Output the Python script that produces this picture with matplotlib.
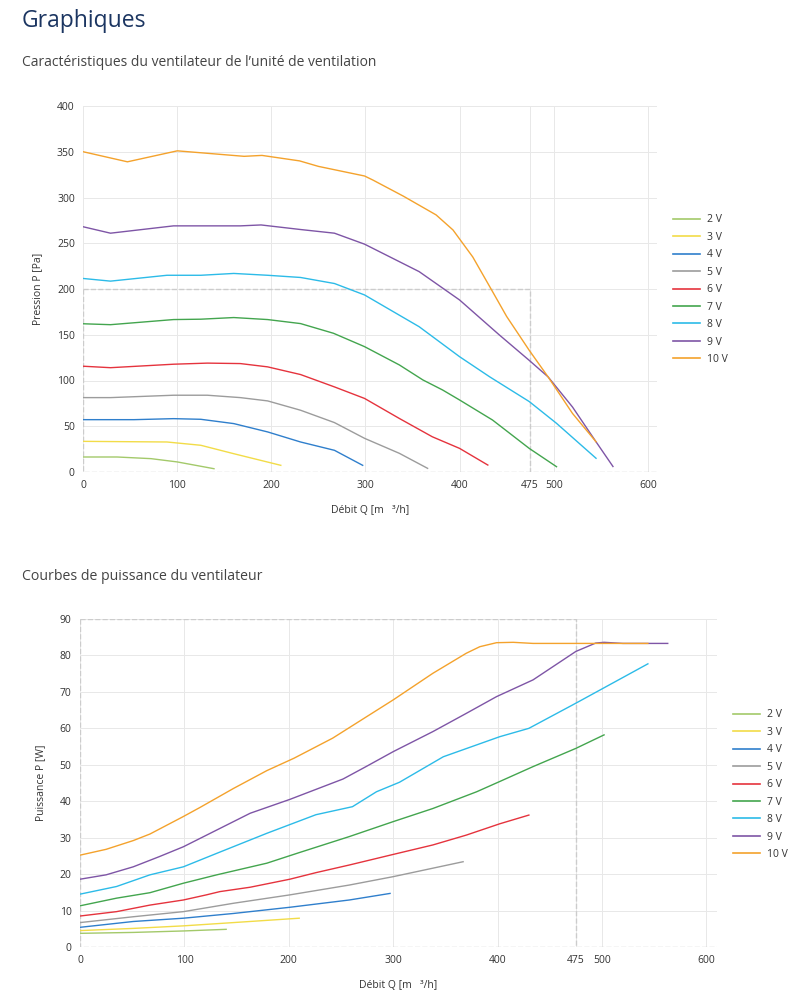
import matplotlib
matplotlib.use("Agg")
import matplotlib.pyplot as plt
from matplotlib.lines import Line2D

plt.rcParams['font.family'] = ['Open Sans', 'DejaVu Sans']

labels = ["2 V", "3 V", "4 V", "5 V", "6 V", "7 V", "8 V", "9 V", "10 V"]
colors = ["#a3c96a", "#f2dc48", "#2f7fcc", "#9c9c9c", "#e5333d",
          "#43a54e", "#2cbbe8", "#7e55a6", "#f4a22c"]

# --- pressure curves (Q m3/h, P Pa)
q_2v = [0, 36, 72, 100, 139]
p_2v = [16.4, 16.4, 14.6, 11, 3.6]
q_3v = [0, 89, 125, 160, 210]
p_3v = [33.5, 32.8, 29.2, 20, 7.3]
q_4v = [0, 54, 96, 125, 160, 196, 231, 267, 297]
p_4v = [57.2, 57.2, 58.3, 57.6, 52.9, 43.8, 32.8, 23.7, 7.3]
q_5v = [0, 29, 96, 132, 167, 196, 231, 267, 299, 336, 366]
p_5v = [81.3, 81.3, 83.9, 83.9, 81.3, 77.7, 67.5, 54, 36.8, 20.4, 4]
q_6v = [0, 29, 96, 132, 167, 196, 231, 267, 299, 336, 371, 400, 430]
p_6v = [115.6, 114, 117.8, 119, 118.5, 114.9, 106.5, 93, 80.4, 58.5, 38.5, 25.8, 7.6]
q_7v = [0, 29, 96, 125, 160, 196, 231, 266, 299, 336, 361, 382, 400, 435, 474, 503]
p_7v = [162, 161, 166.6, 167, 168.8, 166.6, 162.2, 151.6, 137, 117, 100.6, 89.6, 78.7, 56.8, 25.8, 5.8]
q_8v = [0, 29, 89, 125, 160, 196, 231, 267, 299, 357, 400, 432, 474, 503, 545]
p_8v = [211.5, 208.6, 215, 215, 217, 215, 212.6, 206, 193.5, 158.8, 126, 104, 77, 53.2, 15]
q_9v = [0, 29, 96, 167, 189, 231, 267, 299, 357, 400, 442, 474, 494, 520, 545, 563]
p_9v = [268, 261, 269, 269, 270, 265, 261, 249, 219, 188, 150, 122, 104, 71, 33, 6]
q_10v = [0, 47, 100, 171, 190, 230, 250, 299, 308, 340, 375, 393, 414, 434, 450, 474, 494, 520, 545]
p_10v = [350, 339, 351, 345, 346, 340, 334, 323.5, 319, 301.6, 281, 264.5, 235, 199, 170, 133, 104, 64, 33]

# --- power curves (Q m3/h, W)
wq_2v = [0, 51, 99, 140]
w_2v = [3.75, 4.0, 4.4, 4.85]
wq_3v = [0, 51, 99, 147, 210]
w_3v = [4.5, 5.1, 5.8, 6.7, 7.9]
wq_4v = [0, 51, 99, 147, 201, 258, 297]
w_4v = [5.4, 7.0, 7.9, 9.2, 10.9, 12.9, 14.7]
wq_5v = [0, 51, 99, 147, 201, 258, 300, 367]
w_5v = [6.7, 8.3, 9.7, 12.0, 14.3, 17.0, 19.3, 23.4]
wq_6v = [0, 35, 67, 99, 121, 134, 163, 201, 226, 258, 300, 338, 370, 402, 430]
w_6v = [8.5, 9.7, 11.5, 12.9, 14.3, 15.2, 16.4, 18.6, 20.4, 22.5, 25.4, 28.0, 30.7, 33.8, 36.2]
wq_7v = [0, 35, 67, 99, 131, 179, 210, 258, 300, 338, 380, 402, 434, 475, 502]
w_7v = [11.3, 13.4, 14.9, 17.5, 19.8, 23.0, 25.9, 30.3, 34.4, 38.0, 42.6, 45.4, 49.5, 54.5, 58.2]
wq_8v = [0, 35, 67, 99, 131, 179, 226, 261, 284, 306, 348, 402, 430, 475, 498, 544]
w_8v = [14.5, 16.6, 19.8, 22.0, 25.7, 31.2, 36.3, 38.5, 42.6, 45.2, 52.2, 57.7, 60.0, 66.9, 70.5, 77.7]
wq_9v = [0, 25, 51, 76, 99, 131, 163, 201, 252, 274, 300, 338, 370, 399, 434, 475, 494, 502, 520, 563]
w_9v = [18.6, 19.8, 22.0, 24.8, 27.5, 32.1, 36.7, 40.5, 46.1, 49.5, 53.6, 59.1, 64.1, 68.7, 73.3, 81.1, 83.4, 83.6, 83.3, 83.3]
wq_10v = [0, 25, 51, 67, 99, 115, 147, 179, 205, 242, 300, 338, 370, 383, 399, 415, 434, 544]
w_10v = [25.2, 26.8, 29.2, 31.0, 35.8, 38.3, 43.5, 48.4, 51.8, 57.3, 67.8, 75.1, 80.6, 82.4, 83.5, 83.6, 83.3, 83.3]

pressure = [(q_2v, p_2v), (q_3v, p_3v), (q_4v, p_4v), (q_5v, p_5v), (q_6v, p_6v),
            (q_7v, p_7v), (q_8v, p_8v), (q_9v, p_9v), (q_10v, p_10v)]
power = [(wq_2v, w_2v), (wq_3v, w_3v), (wq_4v, w_4v), (wq_5v, w_5v), (wq_6v, w_6v),
         (wq_7v, w_7v), (wq_8v, w_8v), (wq_9v, w_9v), (wq_10v, w_10v)]

x_ticks = [0, 100, 200, 300, 400, 475, 500, 600]
op_q = 475
op_p = 200
op_w = 90

TXT = "#333333"
GRID = "#e8e8e8"
DASH = "#cccccc"


def style_axes(ax, ymax, ystep, ylabel):
    ax.set_xlim(0, 610)
    ax.set_ylim(0, ymax)
    ax.set_xticks(x_ticks)
    ax.set_yticks(range(0, ymax + 1, ystep))
    ax.grid(True, color=GRID, lw=0.7)
    ax.set_axisbelow(True)
    for s in ax.spines.values():
        s.set_visible(False)
    ax.tick_params(length=0, labelsize=7.5, colors=TXT, pad=6)
    ax.set_ylabel(ylabel, fontsize=7.5, color=TXT, labelpad=10)
    ax.set_xlabel("Débit Q [m   ³/h]", fontsize=7.5, color=TXT, labelpad=10)


def add_legend(anchor):
    handles = [Line2D([], [], color=c, lw=1.2) for c in colors]
    fig.legend(handles, labels, loc="upper left", bbox_to_anchor=anchor,
               frameon=False, fontsize=7.5, handlelength=2.6, handletextpad=0.6,
               labelspacing=0.62, labelcolor=TXT)


fig = plt.figure(figsize=(8, 10), dpi=100)
fig.text(0.027, 0.979, "Graphiques", fontsize=16.5, color="#1b3561", va="center")

# chart 1
fig.text(0.027, 0.938, "Caractéristiques du ventilateur de l\u2019unité de ventilation",
         fontsize=10, color="#444444", va="center")
ax1 = fig.add_axes([0.104, 0.528, 0.7175, 0.366])
style_axes(ax1, 400, 50, "Pression P [Pa]")
ax1.plot([0, op_q, op_q], [op_p, op_p, 0], ls="--", color=DASH, lw=1)
ax1.plot([0, 0, 610], [op_p, 0, 0], ls="--", color=DASH, lw=1)
for (q, p), c in zip(pressure, colors):
    ax1.plot(q, p, color=c, lw=1)
add_legend((0.83, 0.795))

# chart 2
fig.text(0.027, 0.424, "Courbes de puissance du ventilateur",
         fontsize=10.2, color="#444444", va="center")
ax2 = fig.add_axes([0.1, 0.053, 0.796, 0.328])
style_axes(ax2, 90, 10, "Puissance P [W]")
ax2.plot([0, op_q, op_q], [op_w, op_w, 0], ls="--", color=DASH, lw=1)
ax2.plot([0, 0, 610], [op_w, 0, 0], ls="--", color=DASH, lw=1)
for (q, w), c in zip(power, colors):
    ax2.plot(q, w, color=c, lw=1)
add_legend((0.905, 0.30))

fig.savefig("out.png", dpi=100)
